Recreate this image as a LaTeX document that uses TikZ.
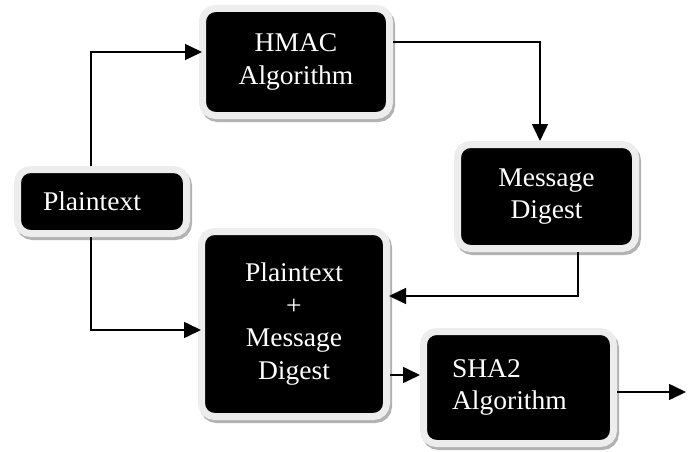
\documentclass[tikz,border=0pt]{standalone}
\usepackage{fontspec}
\newfontfamily\boxfont[FakeStretch=1.02]{Liberation Serif}
\usetikzlibrary{arrows.meta}
\tikzset{
  box/.style={fill=black, draw=black!7, line width=7pt, rounded corners=13pt,
    text=white, font=\boxfont\fontsize{27}{32.5}\selectfont, align=center, inner sep=0pt,
    preaction={draw=black!30, fill=black!30, line width=7pt, transform canvas={shift={(2pt,-3pt)}}}},
  arr/.style={line width=1.6pt, -{Triangle[length=17pt,width=16pt]}}
}
\begin{document}
\begin{tikzpicture}[x=1pt,y=-1pt]
\useasboundingbox (0,0) rectangle (691,452);
\node[box, minimum width=187pt, minimum height=107pt] (hmac) at (296,62) {HMAC\\Algorithm};
\node[box, minimum width=169pt, minimum height=64pt, text width=118pt, align=left, inner xsep=25.5pt] (plain) at (102,201.5) {Plaintext};
\node[box, minimum width=178pt, minimum height=104pt] (md) at (546.5,196.5) {Message\\Digest};
\node[box, minimum width=185pt, minimum height=185pt] (pmd) at ([yshift=2pt]294,326) {Plaintext\\+\\Message\\Digest};
\node[box, minimum width=190pt, minimum height=112pt, text width=133pt, align=left, inner xsep=28.5pt] (sha) at (518.5,387.5) {SHA2\\Algorithm};
\coordinate (out) at (686,392);
\draw[arr, shorten >=-3pt] ([xshift=-11pt]plain.north) |- ([yshift=10pt]hmac.west);
\draw[arr] ([yshift=20pt]hmac.east) -| ([xshift=-6.5pt]md.north);
\draw[arr, shorten >=-1pt] ([xshift=31.5pt]md.south) |- ([yshift=28pt]pmd.east);
\draw[arr, shorten >=-3pt] ([xshift=-11pt]plain.south) |- ([yshift=-6pt]pmd.west);
\draw[arr] ([yshift=-51pt]pmd.east) -- ([yshift=-51pt]pmd.east -| sha.west);
\draw[arr] (sha.east |- out) -- (out);
\end{tikzpicture}
\end{document}
